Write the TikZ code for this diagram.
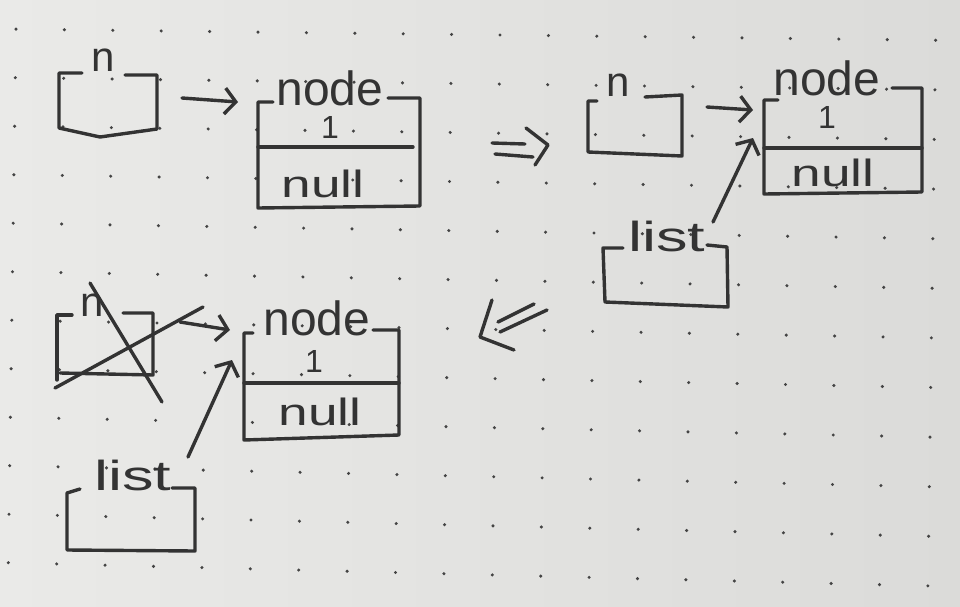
\documentclass[tikz,border=0pt]{standalone}
\usepackage{fontspec}
\setmainfont{Liberation Sans}
\usepackage{graphicx}
\usetikzlibrary{arrows.meta}
\definecolor{ink}{HTML}{333333}
\definecolor{paperL}{HTML}{EAEAE8}
\definecolor{paperR}{HTML}{DBDBD9}
\definecolor{dotc}{HTML}{444444}
\begin{document}
\begin{tikzpicture}[x=1pt,y=-1pt,
  pen/.style={draw=ink,line width=3.4pt,line cap=round,line join=round},
  arr/.style={pen,-{Straight Barb[length=11pt,width=26pt]}},
  lbl/.style={text=ink,inner sep=0pt},
  nfont/.style={lbl,font=\fontsize{42}{42}\selectfont},
  nodefont/.style={lbl,font=\fontsize{48}{48}\selectfont},
  onefont/.style={lbl,font=\fontsize{32}{32}\selectfont},
  nullfont/.style={lbl,font=\fontsize{38}{38}\selectfont},
  listfont/.style={lbl,font=\fontsize{42}{42}\selectfont}]
\useasboundingbox (0,0) rectangle (960,607);
\shade[left color=paperL,right color=paperR] (0,0) rectangle (960,607);
% dot grid of the paper (slight perspective)
\foreach \i in {0,...,19}{
  \foreach \j in {0,...,11}{
    \pgfmathsetmacro{\dx}{16+48.4*\i-0.7*\j}
    \pgfmathsetmacro{\dy}{29+48.5*\j+0.012*\dx*(1+0.1*\j)}
    \fill[dotc] (\dx,\dy) circle (1.7pt);
  }
}
% ---------- top-left: n -> node ----------
\draw[pen] (82,73) -- (59,73) -- (59,128) -- (100,137) -- (157,129) -- (157,75) -- (125,75);
\node[nfont] (n1) at (103,60) {n};
\coordinate (a1s) at (182,98);
\coordinate (a1e) at (238,102);
\draw[arr] (a1s) -- (a1e);
\draw[pen] (273,102) -- (258,102) -- (258,208) -- (420,206) -- (420,98) -- (388,98);
\draw[pen] (258,147) -- (413,147);
\node[nodefont] (nd1) at (330,88) {node};
\node[onefont] (v1) at (330,127) {1};
\node[nullfont] (nl1) at (323,184) {\scalebox{1.4}[1]{null}};
% ---------- double arrow right ----------
\draw[pen] (492,143) -- (525,144);
\draw[pen] (495,154) -- (533,157);
\draw[pen] (526,128) -- (548,145) -- (535,165);
% ---------- top-right ----------
\draw[pen] (597,101) -- (588,101) -- (588,152) -- (682,156) -- (682,95) -- (645,97);
\node[nfont] (n2) at (618,85) {n};
\coordinate (a2s) at (707,107);
\coordinate (a2e) at (753,110);
\draw[arr] (a2s) -- (a2e);
\draw[pen] (778,100) -- (764,100) -- (764,194) -- (922,192) -- (922,88) -- (892,88);
\draw[pen] (764,148) -- (922,148);
\node[nodefont] (nd2) at (827,78) {node};
\node[onefont] (v2) at (827,117) {1};
\node[nullfont] (nl2) at (833,173) {\scalebox{1.4}[1]{null}};
\draw[pen] (623,248) -- (603,248) -- (605,302) -- (728,307) -- (727,247) -- (707,245);
\node[listfont] (l2) at (667,236) {\scalebox{1.5}[1]{list}};
\coordinate (a3s) at (713,222);
\coordinate (a3e) at (753,138);
\draw[arr] (a3s) -- (a3e);
% ---------- double arrow left ----------
\draw[pen] (498,322) -- (534,304);
\draw[pen] (500,332) -- (547,310);
\draw[pen] (492,300) -- (480,337) -- (514,350);
% ---------- bottom-left ----------
\draw[pen] (72,315) -- (57,315) -- (57,380);
\draw[pen] (60,373) -- (153,375) -- (153,313) -- (123,313);
\node[nfont] (n3) at (92,305) {n};
\draw[pen] (90,283) -- (162,402);
\draw[pen] (55,388) -- (203,307);
\coordinate (a4s) at (180,322);
\coordinate (a4e) at (230,330);
\draw[arr] (a4s) -- (a4e);
\draw[pen] (253,333) -- (244,333) -- (244,440) -- (399,435) -- (399,330) -- (373,330);
\draw[pen] (244,383) -- (399,383);
\node[nodefont] (nd3) at (317,318) {node};
\node[onefont] (v3) at (314,361) {1};
\node[nullfont] (nl3) at (320,412) {\scalebox{1.4}[1]{null}};
\draw[pen] (80,489) -- (67,493) -- (67,550) -- (195,551) -- (195,488) -- (172,488);
\node[listfont] (l3) at (133,475) {\scalebox{1.5}[1]{list}};
\coordinate (a5s) at (188,457);
\coordinate (a5e) at (232,360);
\draw[arr] (a5s) -- (a5e);
\end{tikzpicture}
\end{document}
